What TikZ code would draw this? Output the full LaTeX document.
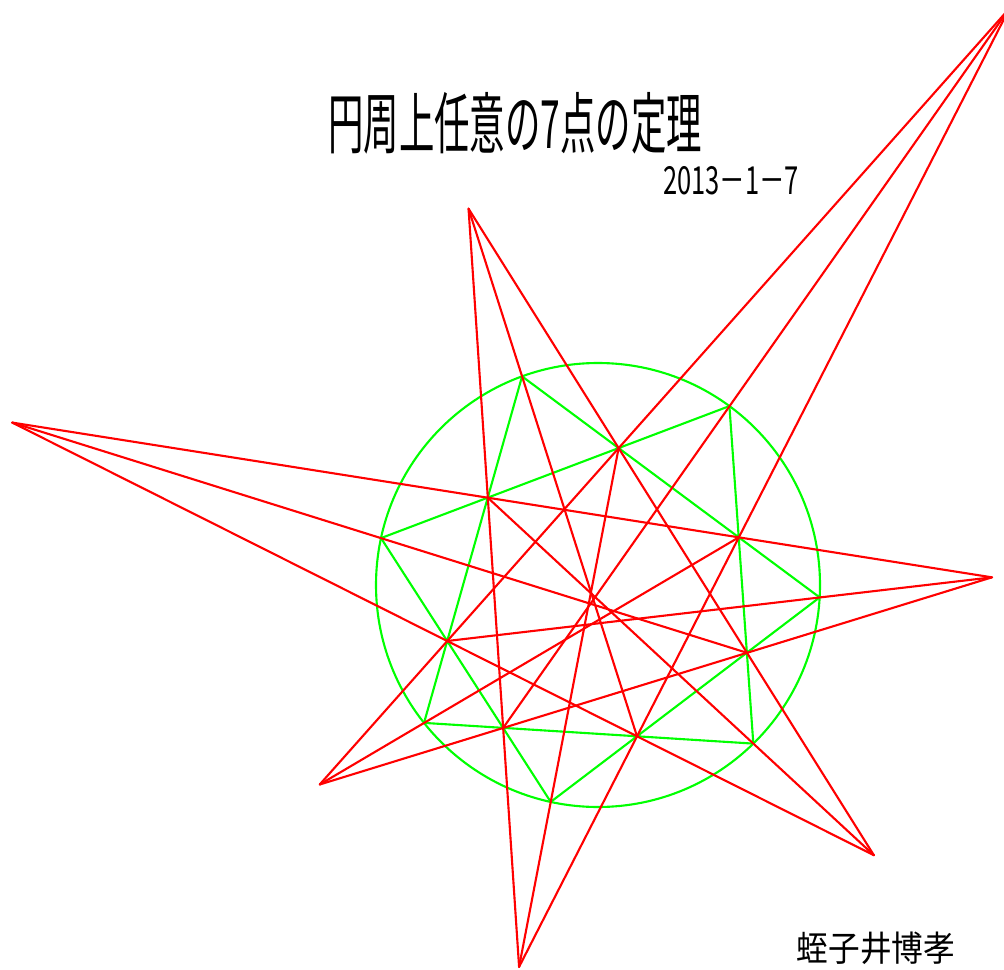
\documentclass[tikz,border=0pt]{standalone}
\usepackage{fontspec}
\setmainfont{Noto Sans CJK JP}
\usepackage{tikz}
\usetikzlibrary{positioning}

\begin{document}
\begin{tikzpicture}[x=0.2mm, y=-0.2mm,
    redline/.style={red, line width=1.2pt, line cap=round},
    greenline/.style={green, line width=1.2pt}]
    \useasboundingbox (0, 0) rectangle (1004, 970);

    \coordinate (O) at (598, 585);
    \foreach \n/\a in {A/-110, B/-53.7, C/3.2, D/45.6, E/102.3, F/141.6, G/-167.8}
      \coordinate (\n) at ([shift={(O)}] \a:222);

    % inner points
    \coordinate (I1) at (intersection of A--C and G--B);
    \coordinate (I2) at (intersection of A--C and B--D);
    \coordinate (I3) at (intersection of B--D and C--E);
    \coordinate (I4) at (intersection of C--E and D--F);
    \coordinate (I5) at (intersection of D--F and E--G);
    \coordinate (I6) at (intersection of E--G and F--A);
    \coordinate (I7) at (intersection of F--A and G--B);

    % outer points
    \coordinate (P1) at (intersection of I6--I1 and I2--I4);
    \coordinate (P2) at (intersection of I7--I2 and I3--I5);
    \coordinate (P3) at (intersection of I1--I3 and I4--I6);
    \coordinate (P4) at (intersection of I2--I4 and I5--I7);
    \coordinate (P5) at (intersection of I3--I5 and I6--I1);
    \coordinate (P6) at (intersection of I4--I6 and I7--I2);
    \coordinate (P7) at (intersection of I5--I7 and I1--I3);

    \draw [greenline] (O) circle [radius=222];
    \draw [greenline] (A) -- (C) -- (E) -- (G) -- (B) -- (D) -- (F) -- cycle;

    \foreach \p/\q in {P1/P4, P4/P7, P7/P3, P3/P6, P6/P2, P2/P5, P5/P1}
      \draw [redline] (\p) -- (\q);
    \foreach \p/\q in {P1/I5, P2/I6, P3/I7, P4/I1, P5/I2, P6/I3, P7/I4}
      \draw [redline] (\p) -- (\q);

    \node (title) at (515, 123) {\scalebox{.53}[1]{\fontsize{38}{42}\selectfont 円周上任意の7点の定理}};
    \node (date) at (731, 181) {\scalebox{.66}[1]{\fontsize{22}{26}\selectfont 2013－1－7}};
    \node (author) at (876, 948) {\scalebox{.9}[1]{\fontsize{20}{24}\selectfont 蛭子井博孝}};
  \end{tikzpicture}
\end{document}
